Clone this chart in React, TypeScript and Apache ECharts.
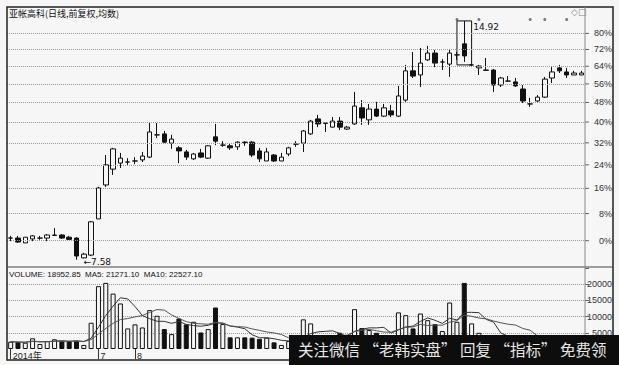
import React, { useEffect, useRef } from 'react';
import * as echarts from 'echarts';

const titleText = '亚帐高科(日线,前复权,均数)';
const volumeHeader = 'VOLUME: 18952.85  MA5: 21271.10  MA10: 22527.10';
const bannerText = '关注微信 “老韩实盘” 回复 “指标” 免费领';
const basePrice = 8.0;
const pctLevels = [0, 8, 16, 24, 32, 40, 48, 56, 64, 72, 80];
const volTickMax = 25000;
const volTickStep = 5000;

const opens = [
  8.06, 8.06, 7.95, 8.04, 8.06, 8.06, 8.12, 8.13, 8.08, 8.06,
  7.62, 7.68, 8.51, 9.37, 9.80, 9.97, 10.00, 10.03, 10.06, 10.14,
  10.80, 10.83, 10.55, 10.41, 10.29, 10.09, 10.26, 10.11, 10.74, 10.49,
  10.47, 10.44, 10.58, 10.58, 10.32, 10.03, 10.20, 10.03, 10.23, 10.52,
  10.55, 10.83, 11.30, 11.17, 11.04, 11.23, 10.98, 11.14, 11.66, 11.27,
  11.62, 11.39, 11.56, 11.39, 11.92, 12.95, 12.80, 13.36, 13.62, 13.28,
  13.20, 13.55, 13.98, 13.17, 13.06, 12.98, 12.98, 12.44, 12.58, 12.55,
  12.30, 11.79, 11.89, 12.02, 12.69, 13.06, 12.91, 12.80, 12.80,
];
const closes = [
  8.06, 7.97, 8.08, 8.11, 8.06, 8.13, 8.13, 8.06, 8.03, 7.66,
  7.70, 8.44, 9.29, 9.92, 10.38, 10.11, 10.00, 10.03, 10.17, 10.89,
  10.80, 10.58, 10.67, 10.32, 10.14, 10.23, 10.14, 10.47, 10.61, 10.49,
  10.41, 10.58, 10.57, 10.20, 10.09, 10.29, 10.03, 10.14, 10.41, 10.52,
  10.92, 11.23, 11.14, 11.16, 11.23, 11.04, 11.04, 11.72, 11.33, 11.62,
  11.39, 11.66, 11.43, 12.06, 12.95, 12.76, 13.24, 13.62, 13.24, 13.28,
  13.62, 13.55, 13.51, 13.17, 13.13, 12.97, 12.44, 12.69, 12.58, 12.41,
  11.89, 11.79, 12.02, 12.65, 12.91, 12.95, 12.80, 12.87, 12.87,
];
const lows = [
  7.99, 7.95, 7.95, 7.99, 8.02, 7.99, 8.11, 8.04, 8.02, 7.58,
  7.61, 7.66, 8.51, 9.32, 9.64, 9.83, 9.92, 9.94, 10.00, 10.11,
  10.70, 10.55, 10.38, 9.97, 10.06, 10.06, 10.11, 10.09, 10.49, 10.44,
  10.35, 10.35, 10.47, 10.14, 10.00, 10.03, 10.00, 10.03, 10.17, 10.44,
  10.29, 10.80, 11.04, 10.89, 11.03, 10.95, 10.95, 11.11, 11.11, 11.11,
  11.36, 11.36, 11.36, 11.36, 11.86, 12.69, 12.37, 13.32, 13.09, 12.98,
  12.73, 13.36, 13.28, 13.09, 12.80, 12.95, 12.20, 12.37, 12.55, 12.37,
  11.82, 11.69, 11.86, 11.99, 12.51, 12.87, 12.69, 12.80, 12.80,
];
const highs = [
  8.11, 8.11, 8.08, 8.13, 8.11, 8.15, 8.29, 8.15, 8.11, 8.08,
  7.73, 8.46, 9.32, 10.20, 10.41, 10.26, 10.11, 10.14, 10.29, 11.17,
  11.17, 10.92, 10.80, 10.46, 10.35, 10.26, 10.38, 10.49, 11.14, 10.61,
  10.55, 10.61, 10.60, 10.61, 10.41, 10.41, 10.23, 10.26, 10.44, 10.61,
  10.95, 11.27, 11.43, 11.19, 11.36, 11.36, 11.08, 12.20, 11.92, 11.79,
  11.86, 11.79, 11.76, 12.41, 13.17, 13.66, 13.82, 13.90, 13.74, 13.39,
  13.74, 13.66, 14.92, 13.20, 13.17, 13.43, 13.02, 12.73, 12.76, 12.69,
  12.44, 12.00, 12.09, 12.73, 13.09, 13.17, 13.06, 12.95, 12.95,
];
const volumes = [
  2250, 2050, 1950, 3300, 1550, 2450, 3000, 2450, 2450, 2450,
  1250, 8100, 19400, 20400, 17100, 14050, 6350, 7600, 6650, 12000,
  10250, 6150, 4600, 9400, 7600, 8400, 5100, 6150, 12800, 7700,
  3600, 3600, 3600, 3500, 3150, 3500, 2050, 1250, 2450, 3000,
  9150, 7900, 4000, 3200, 3800, 5000, 3000, 12300, 6450, 5850,
  5000, 3800, 3500, 11300, 10450, 6350, 10950, 8900, 7700, 5550,
  14350, 8400, 20400, 7900, 5000, 4000, 4200, 3500, 3000, 3200,
  3800, 3000, 2800, 4000, 3500, 3000, 2800, 2500, 2400,
];
const monthLabels: { [k: number]: string } = { 0: '2014年', 12: '7', 17: '8' };
const lowLabelIdx = 9;
const highLabelIdx = 62;
const boxFrom = 61;
const boxTo = 63;
const signalIdx = [61, 64, 71, 73, 76];
const signalLevel = 14.98;

const BG = '#f6f6f6';
const INK = '#111';

function movingAvg(arr: number[], n: number) {
  return arr.map((_, i) => {
    const s = arr.slice(Math.max(0, i - n + 1), i + 1);
    return Math.round(s.reduce((a, b) => a + b, 0) / s.length);
  });
}

export default function App() {
  const ref = useRef<HTMLDivElement>(null);
  useEffect(() => {
    if (!ref.current) return;
    const chart = echarts.init(ref.current, null, { renderer: 'svg' });
    const cats = opens.map((_, i) => String(i));
    const candleData = opens.map((o, i) => [o, closes[i], lows[i], highs[i]]);
    const volData = volumes.map((v, i) => ({
      value: v,
      itemStyle:
        closes[i] >= opens[i]
          ? { color: BG, borderColor: INK, borderWidth: 1 }
          : { color: INK, borderColor: INK, borderWidth: 1 },
    }));
    const showMonth = (idx: number) => monthLabels[idx] !== undefined;
    chart.setOption({
      animation: false,
      backgroundColor: BG,
      grid: [
        { left: 7, right: 34, top: 8, height: 259 },
        { left: 7, right: 34, top: 268, height: 81 },
      ],
      xAxis: [
        {
          type: 'category', gridIndex: 0, data: cats,
          axisLine: { show: false }, axisTick: { show: false }, axisLabel: { show: false },
        },
        {
          type: 'category', gridIndex: 1, data: cats,
          axisLine: { show: false },
          axisTick: { show: true, interval: showMonth, alignWithLabel: true, length: 10, lineStyle: { color: '#333' } },
          axisLabel: {
            interval: showMonth, formatter: (_v: string, i: number) => monthLabels[i] || '',
            fontSize: 9, color: '#222', align: 'left', margin: 2, padding: [0, 0, 0, 2],
            fontFamily: 'Liberation Sans, Noto Sans CJK SC',
          },
        },
      ],
      yAxis: [
        {
          type: 'log', gridIndex: 0, min: 7.425, max: 15.477, logBase: 10,
          axisLine: { show: false }, axisTick: { show: false }, axisLabel: { show: false }, splitLine: { show: false },
        },
        {
          type: 'value', gridIndex: 1, min: 0, max: volTickMax, interval: volTickStep, position: 'right',
          axisLine: { show: false },
          axisTick: { show: true, length: 4, lineStyle: { color: '#666' } },
          axisLabel: {
            align: 'right', margin: 27, fontSize: 9, color: '#333', fontFamily: 'Liberation Sans',
            formatter: (v: number) => (v === 0 || v === volTickMax ? '' : String(v)),
          },
          splitLine: { showMinLine: false, showMaxLine: false, lineStyle: { type: 'dotted', color: '#999' } },
        },
      ],
      series: [
        {
          type: 'candlestick', xAxisIndex: 0, yAxisIndex: 0, data: candleData, barWidth: 5,
          itemStyle: { color: BG, color0: INK, borderColor: INK, borderColor0: INK, borderColorDoji: INK, borderWidth: 1 },
          markLine: {
            silent: true, symbol: ['none', 'none'],
            lineStyle: { type: 'dotted', color: '#999', width: 1 },
            label: { show: false },
            data: pctLevels.map((p) => ({ yAxis: basePrice * (1 + p / 100) })),
          },
          markArea: {
            silent: true,
            itemStyle: { color: 'rgba(0,0,0,0)', borderColor: INK, borderWidth: 1 },
            data: [[{ coord: [boxFrom, highs[highLabelIdx]] }, { coord: [boxTo, closes[boxTo]] }]],
          },
          markPoint: {
            silent: true, symbol: 'circle', symbolSize: 0,
            label: { show: true, position: 'right', color: INK, fontSize: 9, fontFamily: 'DejaVu Sans, Liberation Sans' },
            data: [
              { coord: [highLabelIdx, highs[highLabelIdx]], label: { formatter: highs[highLabelIdx].toFixed(2), offset: [4, 6] } },
              { coord: [lowLabelIdx, lows[lowLabelIdx]], label: { formatter: '←' + lows[lowLabelIdx].toFixed(2), offset: [2, 2] } },
            ],
          },
        },
        {
          type: 'scatter', xAxisIndex: 0, yAxisIndex: 0, symbolSize: 3, silent: true,
          itemStyle: { color: '#555' },
          data: signalIdx.map((i) => [i, signalLevel]),
        },
        {
          type: 'bar', xAxisIndex: 1, yAxisIndex: 1, data: volData, barWidth: 5,
        },
        {
          type: 'line', xAxisIndex: 1, yAxisIndex: 1, data: movingAvg(volumes, 5),
          showSymbol: false, lineStyle: { width: 1, color: '#333' }, silent: true,
        },
        {
          type: 'line', xAxisIndex: 1, yAxisIndex: 1, data: movingAvg(volumes, 10),
          showSymbol: false, lineStyle: { width: 1, color: '#555' }, silent: true,
        },
      ],
    });

    const pctGraphics: any[] = [];
    pctLevels.forEach((p) => {
      const y = chart.convertToPixel({ yAxisIndex: 0 }, basePrice * (1 + p / 100)) as number;
      pctGraphics.push({
        type: 'text', x: 612, y, z: 50,
        style: { text: p + '%', fill: '#333', font: '9px Liberation Sans', align: 'right', verticalAlign: 'middle' },
      });
      pctGraphics.push({
        type: 'line', z: 50, shape: { x1: 585, y1: y, x2: 589, y2: y }, style: { stroke: '#666', lineWidth: 1 },
      });
    });

    chart.setOption({
      graphic: [
        { type: 'rect', z: 40, shape: { x: 7, y: 7, width: 606, height: 353 }, style: { fill: 'none', stroke: '#222', lineWidth: 1.5 } },
        { type: 'line', z: 40, shape: { x1: 7, y1: 267, x2: 613, y2: 267 }, style: { stroke: '#444', lineWidth: 1 } },
        { type: 'line', z: 40, shape: { x1: 585, y1: 7, x2: 585, y2: 360 }, style: { stroke: '#888', lineWidth: 1 } },
        { type: 'text', z: 40, x: 9, y: 9, style: { text: titleText, fill: INK, font: '9px Noto Sans CJK SC' } },
        { type: 'text', z: 40, x: 9, y: 270, style: { text: volumeHeader, fill: INK, font: '8px Liberation Sans' } },
        { type: 'text', z: 40, x: 571, y: 7, style: { text: '◇□', fill: '#888', font: '9px DejaVu Sans' } },
        ...pctGraphics,
        { type: 'rect', z: 100, shape: { x: 289, y: 335, width: 330, height: 30 }, style: { fill: '#0d0d0d' } },
        { type: 'text', z: 101, x: 298, y: 341, style: { text: bannerText, fill: '#e6e6e6', font: '15.5px Noto Sans CJK SC' } },
      ],
    });

    return () => chart.dispose();
  }, []);
  return <div ref={ref} style={{ position: 'fixed', left: 0, top: 0, width: 619, height: 365 }} />;
}
